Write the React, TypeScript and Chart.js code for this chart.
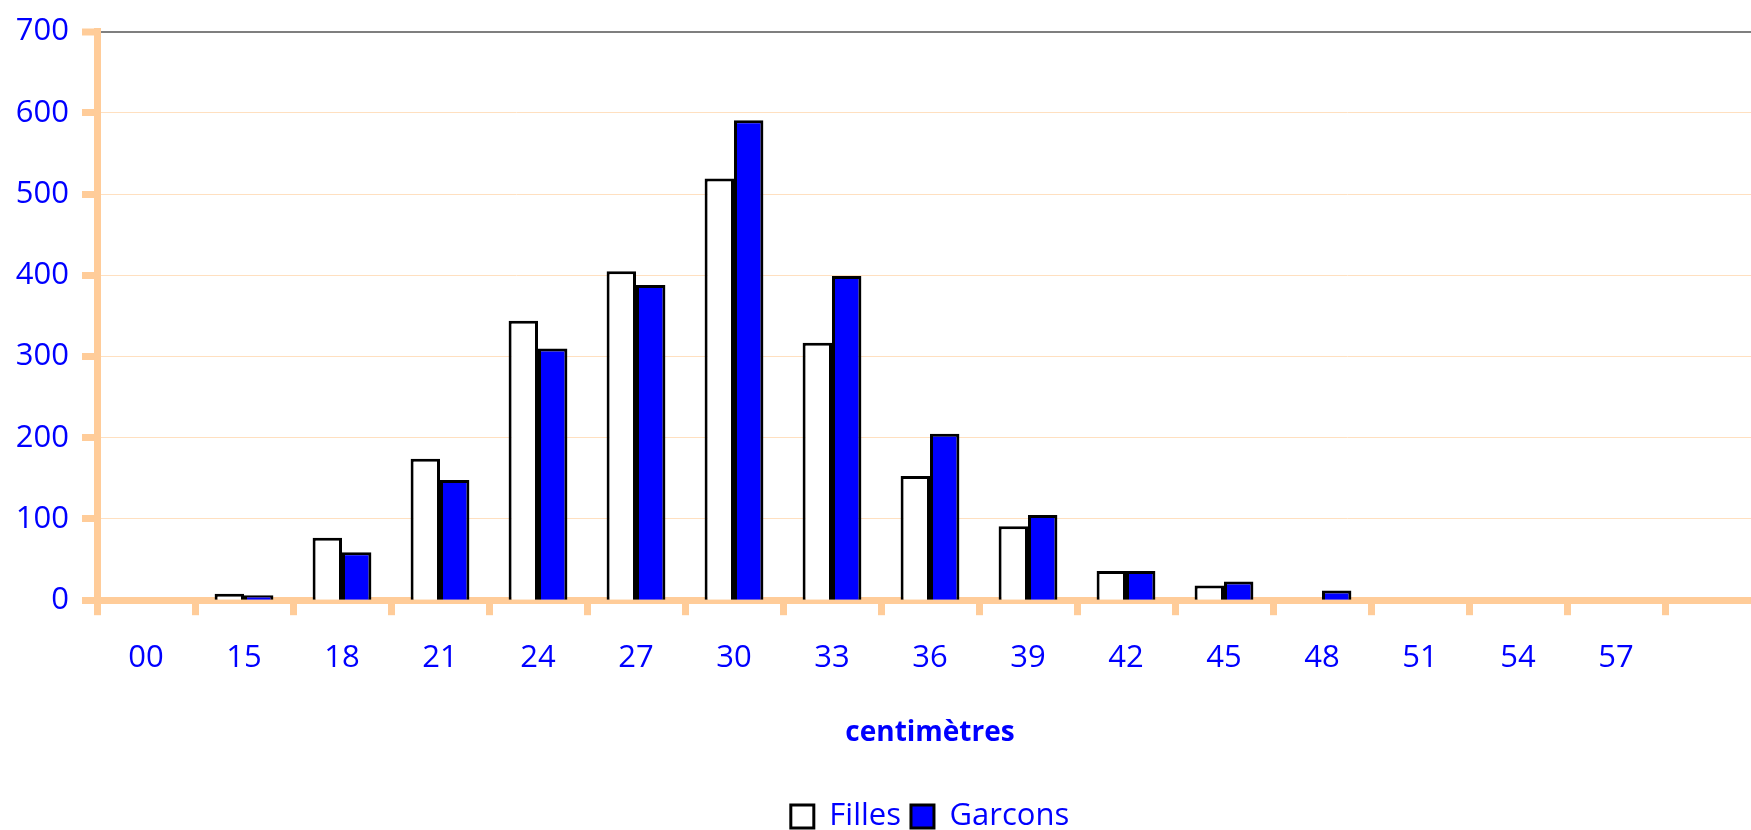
import React, { useEffect, useRef } from 'react';
import { Chart, registerables } from 'chart.js';

Chart.register(...registerables);

// Categories (cm); the trailing empty category is the partly visible extra slot on the right
const categories = ['00', '15', '18', '21', '24', '27', '30', '33', '36', '39', '42', '45', '48', '51', '54', '57', ''];
const filles = [0, 8, 77, 174, 344, 405, 519, 317, 153, 91, 36, 18, 0, 0, 0, 0, 0];
const garcons = [0, 6, 59, 148, 310, 388, 591, 399, 205, 105, 36, 23, 12, 0, 0, 0, 0];
const yMin = 0;
const yMax = 700;
const yStep = 100;
const seriesNames = ['Filles', 'Garcons'];
const axisTitle = 'centimètres';

const ORANGE = '#FFCC99';
const GRID = '#FFE0C0';
const BLUE = '#0000FF';
const FONT = "'Open Sans', 'DejaVu Sans', sans-serif";

export default function App() {
  const ref = useRef<HTMLCanvasElement>(null);

  useEffect(() => {
    if (!ref.current) return;
    const chart = new Chart(ref.current, {
      type: 'bar',
      data: {
        labels: categories,
        datasets: [
          {
            label: seriesNames[0],
            data: filles,
            backgroundColor: '#FFFFFF',
            borderColor: '#000000',
            borderWidth: 3,
            categoryPercentage: 0.6,
            barPercentage: 1.0,
          },
          {
            label: seriesNames[1],
            data: garcons,
            backgroundColor: BLUE,
            borderColor: '#000000',
            borderWidth: 3,
            categoryPercentage: 0.6,
            barPercentage: 1.0,
          },
        ],
      },
      options: {
        responsive: false,
        animation: false,
        layout: { padding: { top: 31, left: 0, right: 0, bottom: 0 } },
        plugins: {
          tooltip: { enabled: false },
          legend: {
            position: 'bottom',
            fullSize: false,
            labels: {
              boxWidth: 23,
              boxHeight: 23,
              color: BLUE,
              padding: 10,
              font: { family: FONT, size: 31 },
            },
          },
        },
        scales: {
          x: {
            z: 1,
            grid: {
              display: true,
              offset: true,
              drawOnChartArea: false,
              drawTicks: true,
              tickLength: 15,
              tickColor: ORANGE,
              tickWidth: 7,
              lineWidth: 7,
              color: ORANGE,
            },
            border: { display: true, color: ORANGE, width: 7 },
            ticks: {
              color: BLUE,
              font: { family: FONT, size: 31 },
              padding: 24,
              maxRotation: 0,
              autoSkip: false,
            },
            title: {
              display: true,
              text: axisTitle,
              color: BLUE,
              font: { family: FONT, size: 28, weight: 'bold' },
              padding: { top: 16, bottom: 41 },
            },
          },
          y: {
            min: yMin,
            max: yMax,
            ticks: {
              stepSize: yStep,
              color: BLUE,
              font: { family: FONT, size: 31 },
              padding: 13,
            },
            grid: {
              color: (c: any) => (c.tick && c.tick.value === yMax ? '#7F7F7F' : GRID),
              lineWidth: (c: any) => (c.tick && c.tick.value === yMax ? 2 : 1),
              tickColor: ORANGE,
              tickWidth: 7,
              tickLength: 15,
              drawTicks: true,
            },
            border: { display: true, color: ORANGE, width: 7 },
            afterFit: (s: any) => {
              s.width = 97;
            },
          },
        },
      },
    });
    return () => chart.destroy();
  }, []);

  return (
    <div
      style={{
        position: 'absolute',
        left: 0,
        top: 0,
        width: 1751,
        height: 830,
        overflow: 'hidden',
        background: '#FFFFFF',
      }}
    >
      <canvas ref={ref} width={1763} height={842} style={{ display: 'block' }} />
    </div>
  );
}
